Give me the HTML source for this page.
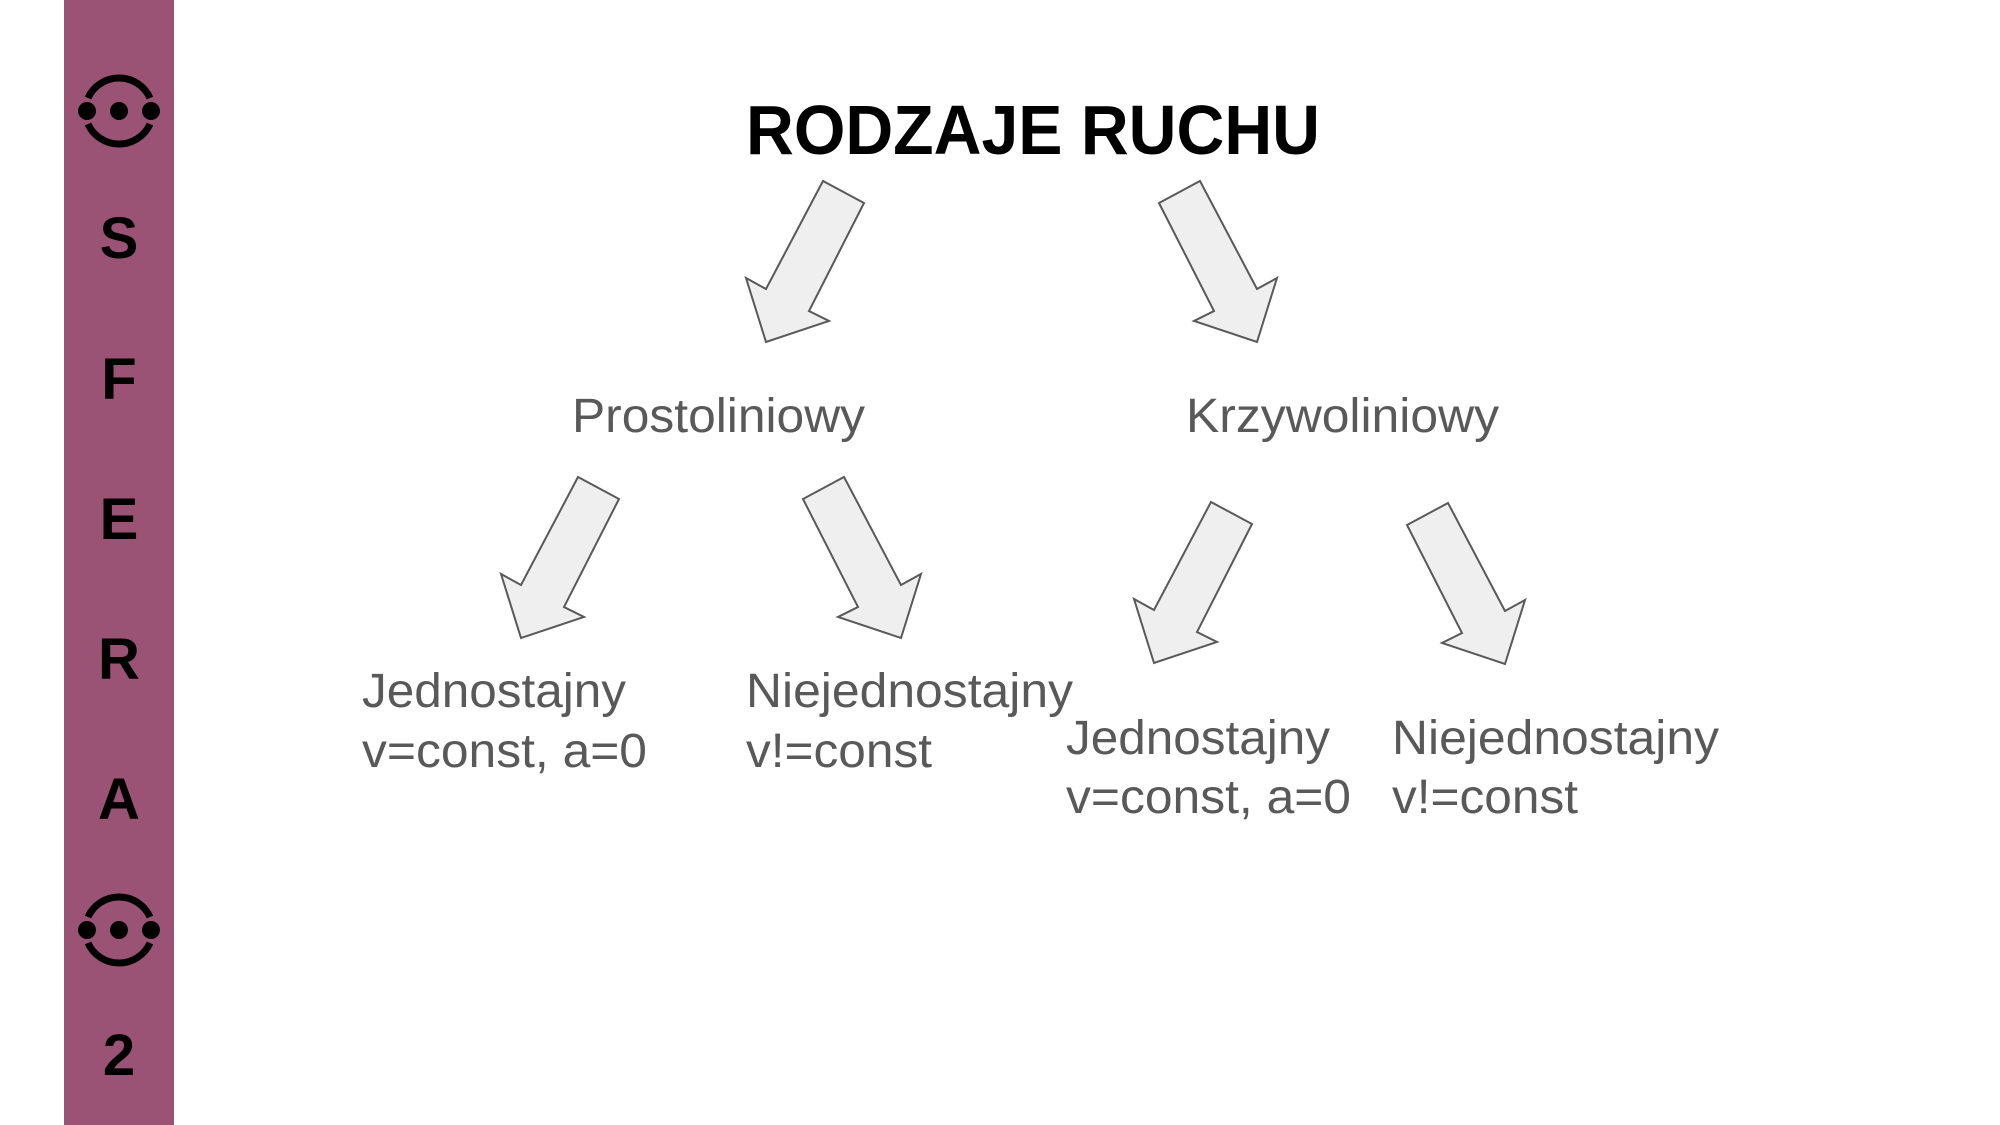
<!DOCTYPE html>
<html><head><meta charset="utf-8"><style>
html,body{margin:0;padding:0;background:#fff;}
svg{display:block;}
</style></head><body>
<svg width="2000" height="1125" viewBox="0 0 2000 1125" xmlns="http://www.w3.org/2000/svg">
<rect x="0" y="0" width="2000" height="1125" fill="#fff"/>
<rect x="64" y="0" width="110" height="1125" fill="#9a5375"/>
<defs>
<g id="ic">
<path d="M-31,-13 A34,34 0 0 1 31,-13" fill="none" stroke="#000" stroke-width="7"/>
<path d="M-31,13 A34,34 0 0 0 31,13" fill="none" stroke="#000" stroke-width="7"/>
<circle cx="-32" cy="0" r="9" fill="#000"/>
<circle cx="0" cy="0" r="9" fill="#000"/>
<circle cx="32" cy="0" r="9" fill="#000"/>
</g>
<polygon id="dl" points="0,0 -20,-64 0,-53 57,-161 98,-139 43,-31 63,-21" fill="#efefef" stroke="#595959" stroke-width="2" stroke-linejoin="miter"/>
<polygon id="dr" points="0,0 20,-64 0,-53 -57,-161 -98,-139 -43,-31 -63,-21" fill="#efefef" stroke="#595959" stroke-width="2"/>
</defs>
<use href="#ic" x="119" y="111"/>
<use href="#ic" x="119" y="930"/>
<g font-family="Liberation Sans, Arial, sans-serif" font-weight="bold" font-size="58" text-anchor="middle" fill="#000">
<text x="119" y="258">S</text>
<text x="119" y="399">F</text>
<text x="119" y="539">E</text>
<text x="119" y="679">R</text>
<text x="119" y="819">A</text>
<text x="119" y="1075">2</text>
</g>
<text x="746" y="154" font-family="Liberation Sans, Arial, sans-serif" font-weight="bold" font-size="70" textLength="574" lengthAdjust="spacingAndGlyphs" fill="#000">RODZAJE RUCHU</text>
<use href="#dl" x="766" y="342"/>
<use href="#dr" x="1257" y="342"/>
<use href="#dl" x="521" y="638"/>
<use href="#dr" x="901" y="638"/>
<use href="#dl" x="1154" y="663"/>
<use href="#dr" x="1505" y="664"/>
<g font-family="Liberation Sans, Arial, sans-serif" font-size="48" fill="#595959">
<text x="572" y="432" textLength="293" lengthAdjust="spacingAndGlyphs">Prostoliniowy</text>
<text x="1186" y="432" textLength="313" lengthAdjust="spacingAndGlyphs">Krzywoliniowy</text>
<text x="362" y="707" textLength="264" lengthAdjust="spacingAndGlyphs">Jednostajny</text>
<text x="362" y="767" textLength="285" lengthAdjust="spacingAndGlyphs">v=const, a=0</text>
<text x="746" y="707" textLength="327" lengthAdjust="spacingAndGlyphs">Niejednostajny</text>
<text x="746" y="767" textLength="186" lengthAdjust="spacingAndGlyphs">v!=const</text>
<text x="1066" y="754" textLength="264" lengthAdjust="spacingAndGlyphs">Jednostajny</text>
<text x="1066" y="813" textLength="285" lengthAdjust="spacingAndGlyphs">v=const, a=0</text>
<text x="1392" y="754" textLength="327" lengthAdjust="spacingAndGlyphs">Niejednostajny</text>
<text x="1392" y="813" textLength="186" lengthAdjust="spacingAndGlyphs">v!=const</text>
</g>
</svg>
</body></html>
